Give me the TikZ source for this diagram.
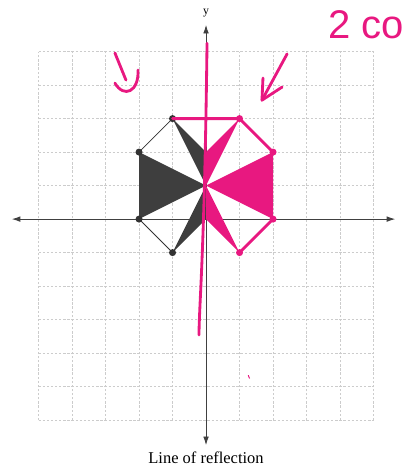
\documentclass[tikz,border=0pt]{standalone}
\usepackage{fontspec}
\setmainfont{Liberation Serif}
\newfontfamily\handfont{Liberation Sans}
\usetikzlibrary{arrows.meta}

\definecolor{penpink}{RGB}{232,24,128}
\definecolor{darkfill}{RGB}{62,62,62}

\begin{document}
\begin{tikzpicture}[
  font=\fontsize{14}{16}\selectfont,
  gridline/.style={black!20, dash pattern=on 2pt off 1.5pt, line width=0.5pt},
  axis/.style={{Latex[length=2.6mm,width=1.7mm]}-{Latex[length=2.6mm,width=1.7mm]},
               black!75, line width=0.8pt},
  dot/.style={circle, fill=black!80, inner sep=0pt, minimum size=2.1mm},
  pinkdot/.style={circle, fill=penpink, inner sep=0pt, minimum size=2.1mm},
  ink/.style={penpink, line width=2.4pt, line cap=round, line join=round},
  edge/.style={black!80, line width=0.7pt}]
\useasboundingbox (-6.15,-7.43) rectangle (5.97,6.54);
\draw[gridline] (-5,-6) grid (5,5);

% axes
\coordinate (xl) at (-5.8,0);
\coordinate (xr) at (5.65,0);
\coordinate (yt) at (0,5.8);
\coordinate (yb) at (0,-6.75);
\draw[axis] (xl) -- (xr);
\draw[axis] (yb) -- (yt);
\node[font=\fontsize{10}{12}\selectfont] (ylab) at (0,6.15) {y};
\node (lor) at (0,-7.13) {Line of reflection};

% figure and its image
\coordinate (o)  at (0,1);
\coordinate (m1) at (0,2);
\coordinate (m0) at (0,0);
\coordinate (a1) at (-1,3);
\coordinate (a2) at (-2,2);
\coordinate (a3) at (-2,0);
\coordinate (a4) at (-1,-1);
\coordinate (b1) at (1,3);
\coordinate (b2) at (2,2);
\coordinate (b3) at (2,0);
\coordinate (b4) at (1,-1);

\fill[darkfill] (a2) -- (a3) -- (o) -- cycle;
\fill[darkfill] (a1) -- (o) -- (m1) -- cycle;
\fill[darkfill] (a4) -- (o) -- (m0) -- cycle;
\draw[edge] (a1) -- (a2) (a3) -- (a4);
\foreach \p in {a1,a2,a3,a4}
  \node[dot] at (\p) {};

\fill[penpink] (b2) -- (b3) -- (o) -- cycle;
\fill[penpink] (b1) -- (o) -- (m1) -- cycle;
\fill[penpink] (b4) -- (o) -- (m0) -- cycle;
\draw[ink] (a1) -- (b1) -- (b2);
\draw[ink] (b3) -- (b4);
\foreach \p in {b1,b2,b3,b4}
  \node[pinkdot] at (\p) {};

% hand marks
\coordinate (rt) at (0.03,5.25);
\coordinate (rb) at (-0.21,-3.46);
\draw[ink] (rt) .. controls (-0.05,-1.2) and (-0.2,-2.4) .. (rb);
\draw[ink] (-2.72,4.96) -- (-2.39,4.15);
\draw[ink] (-2.72,4.06) .. controls (-2.45,3.6) and (-2.0,3.8) .. (-2.03,4.45);
\draw[ink] (2.42,4.93) -- (1.67,3.55);
\draw[ink] (1.70,4.21) -- (1.67,3.55) -- (2.27,3.94);
\draw[penpink, line width=0.8pt] (1.26,-4.66) -- (1.30,-4.76);
\node[penpink, anchor=base west, inner sep=0pt,
      font=\handfont\fontsize{34}{34}\selectfont] (note) at (3.64,5.4) {2 co};
\end{tikzpicture}
\end{document}
